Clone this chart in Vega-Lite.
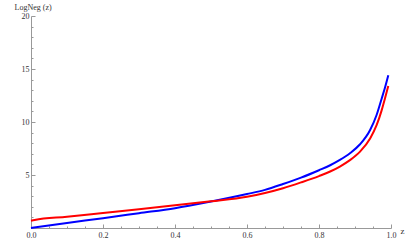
{
  "$schema": "https://vega.github.io/schema/vega-lite/v6.json",
  "autosize": {"type": "none"},
  "width": 360,
  "height": 212,
  "padding": {"left": 31, "top": 16, "right": 24, "bottom": 14},
  "background": "white",
  "config": {"view": {"stroke": null}, "font": "Liberation Serif"},
  "data": {"values": [
    {"z": 0.0, "v": 0.0, "s": "blue"},
    {"z": 0.1, "v": 0.47, "s": "blue"},
    {"z": 0.2, "v": 0.93, "s": "blue"},
    {"z": 0.3, "v": 1.4, "s": "blue"},
    {"z": 0.4, "v": 1.87, "s": "blue"},
    {"z": 0.5, "v": 2.5, "s": "blue"},
    {"z": 0.6, "v": 3.2, "s": "blue"},
    {"z": 0.65, "v": 3.6, "s": "blue"},
    {"z": 0.7, "v": 4.15, "s": "blue"},
    {"z": 0.75, "v": 4.75, "s": "blue"},
    {"z": 0.8, "v": 5.45, "s": "blue"},
    {"z": 0.831, "v": 5.92, "s": "blue"},
    {"z": 0.858, "v": 6.42, "s": "blue"},
    {"z": 0.886, "v": 7.05, "s": "blue"},
    {"z": 0.914, "v": 7.9, "s": "blue"},
    {"z": 0.942, "v": 9.25, "s": "blue"},
    {"z": 0.96, "v": 10.66, "s": "blue"},
    {"z": 0.974, "v": 12.2, "s": "blue"},
    {"z": 0.983, "v": 13.2, "s": "blue"},
    {"z": 0.9925, "v": 14.4, "s": "blue"},
    {"z": 0.0, "v": 0.68, "s": "red"},
    {"z": 0.01, "v": 0.76, "s": "red"},
    {"z": 0.1, "v": 1.07, "s": "red"},
    {"z": 0.2, "v": 1.42, "s": "red"},
    {"z": 0.3, "v": 1.77, "s": "red"},
    {"z": 0.4, "v": 2.14, "s": "red"},
    {"z": 0.5, "v": 2.52, "s": "red"},
    {"z": 0.6, "v": 2.95, "s": "red"},
    {"z": 0.65, "v": 3.3, "s": "red"},
    {"z": 0.7, "v": 3.75, "s": "red"},
    {"z": 0.75, "v": 4.3, "s": "red"},
    {"z": 0.8, "v": 4.9, "s": "red"},
    {"z": 0.831, "v": 5.33, "s": "red"},
    {"z": 0.858, "v": 5.8, "s": "red"},
    {"z": 0.886, "v": 6.4, "s": "red"},
    {"z": 0.914, "v": 7.2, "s": "red"},
    {"z": 0.942, "v": 8.45, "s": "red"},
    {"z": 0.96, "v": 9.7, "s": "red"},
    {"z": 0.974, "v": 11.1, "s": "red"},
    {"z": 0.983, "v": 12.2, "s": "red"},
    {"z": 0.9925, "v": 13.4, "s": "red"}
  ]},
  "mark": {"type": "line", "strokeWidth": 2, "interpolate": "monotone", "clip": false},
  "encoding": {
    "x": {
      "field": "z", "type": "quantitative",
      "scale": {"domain": [0, 1], "nice": false, "zero": false},
      "axis": {
        "values": [0,0.05,0.1,0.15,0.2,0.25,0.3,0.35,0.4,0.45,0.5,0.55,0.6,0.65,0.7,0.75,0.8,0.85,0.9,0.95,1.0],
        "labelExpr": "abs(datum.value*5 - round(datum.value*5)) < 0.001 ? format(datum.value, '.1f') : ''",
        "tickSize": {"condition": {"test": "abs(datum.value*5 - round(datum.value*5)) < 0.001", "value": -4}, "value": -2},
        "domainColor": "#999999", "tickColor": "#999999", "grid": false,
        "labelFontSize": 8, "labelColor": "#333333", "labelPadding": 7, "labelFont": "Liberation Serif",
        "labelFlush": false,
        "title": "z", "titleFontSize": 9, "titleFontWeight": "normal", "titleFont": "Liberation Serif",
        "titleColor": "#333333", "titleX": 369, "titleY": 2, "titleBaseline": "middle", "titleAnchor": "start", "titleAlign": "left"
      }
    },
    "y": {
      "field": "v", "type": "quantitative",
      "scale": {"domain": [0, 20], "nice": false},
      "axis": {
        "values": [0,1,2,3,4,5,6,7,8,9,10,11,12,13,14,15,16,17,18,19,20],
        "labelExpr": "datum.value % 5 == 0 && datum.value > 0 ? format(datum.value, 'd') : ''",
        "tickSize": {"condition": {"test": "datum.value % 5 == 0", "value": -4}, "value": -2},
        "domainColor": "#999999", "tickColor": "#999999", "grid": false,
        "labelFontSize": 8, "labelColor": "#333333", "labelPadding": 6, "labelFont": "Liberation Serif",
        "labelFlush": false,
        "title": "LogNeg (z)", "titleAngle": 0, "titleFontSize": 8, "titleFontWeight": "normal",
        "titleFont": "Liberation Serif", "titleColor": "#333333",
        "titleX": -17, "titleY": -9, "titleAlign": "left", "titleBaseline": "middle", "titleAnchor": "start"
      }
    },
    "color": {
      "field": "s", "type": "nominal",
      "scale": {"domain": ["blue", "red"], "range": ["#0000ff", "#ff0000"]},
      "legend": null
    }
  }
}
